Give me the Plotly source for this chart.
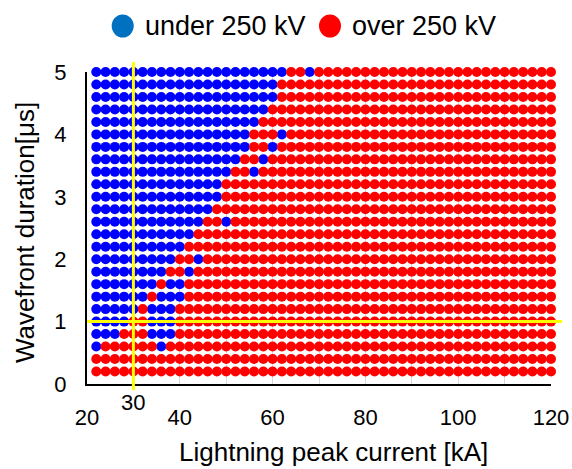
import plotly.graph_objects as go

# ---- data ----
x_values = [22, 24, 26, 28, 30, 32, 34, 36, 38, 40,
            42, 44, 46, 48, 50, 52, 54, 56, 58, 60,
            62, 64, 66, 68, 70, 72, 74, 76, 78, 80,
            82, 84, 86, 88, 90, 92, 94, 96, 98, 100,
            102, 104, 106, 108, 110, 112, 114, 116, 118, 120]
y_values = [5.0, 4.8, 4.6, 4.4, 4.2, 4.0, 3.8, 3.6, 3.4, 3.2,
            3.0, 2.8, 2.6, 2.4, 2.2, 2.0, 1.8, 1.6, 1.4, 1.2,
            1.0, 0.8, 0.6, 0.4, 0.2]
# B = under 250 kV, R = over 250 kV ; one string per row (y_values order), columns follow x_values
class_rows = [
    "BBBBBBBBBB BBBBBBBBBB BRRBRRRRRR RRRRRRRRRR RRRRRRRRRR",  # 5.0
    "BBBBBBBBBB BBBBBBBBBB RRRRRRRRRR RRRRRRRRRR RRRRRRRRRR",  # 4.8
    "BBBBBBBBBB BBBBBBBBBB RRRRRRRRRR RRRRRRRRRR RRRRRRRRRR",  # 4.6
    "BBBBBBBBBB BBBBBBBBBR RRRRRRRRRR RRRRRRRRRR RRRRRRRRRR",  # 4.4
    "BBBBBBBBBB BBBBBBBBRR RRRRRRRRRR RRRRRRRRRR RRRRRRRRRR",  # 4.2
    "BBBBBBBBBB BBBBBBBRRR BRRRRRRRRR RRRRRRRRRR RRRRRRRRRR",  # 4.0
    "BBBBBBBBBB BBBBBBBRRB RRRRRRRRRR RRRRRRRRRR RRRRRRRRRR",  # 3.8
    "BBBBBBBBBB BBBBBBRRBR RRRRRRRRRR RRRRRRRRRR RRRRRRRRRR",  # 3.6
    "BBBBBBBBBB BBBBBRRBRR RRRRRRRRRR RRRRRRRRRR RRRRRRRRRR",  # 3.4
    "BBBBBBBBBB BBBBRRRRRR RRRRRRRRRR RRRRRRRRRR RRRRRRRRRR",  # 3.2
    "BBBBBBBBBB BBBBRRRRRR RRRRRRRRRR RRRRRRRRRR RRRRRRRRRR",  # 3.0
    "BBBBBBBBBB BBBRRRRRRR RRRRRRRRRR RRRRRRRRRR RRRRRRRRRR",  # 2.8
    "BBBBBBBBBB BBRRBRRRRR RRRRRRRRRR RRRRRRRRRR RRRRRRRRRR",  # 2.6
    "BBBBBBBBBB BRRRRRRRRR RRRRRRRRRR RRRRRRRRRR RRRRRRRRRR",  # 2.4
    "BBBBBBBBBB RRRRRRRRRR RRRRRRRRRR RRRRRRRRRR RRRRRRRRRR",  # 2.2
    "BBBBBBBBBR RBRRRRRRRR RRRRRRRRRR RRRRRRRRRR RRRRRRRRRR",  # 2.0
    "BBBBBBBBRR BRRRRRRRRR RRRRRRRRRR RRRRRRRRRR RRRRRRRRRR",  # 1.8
    "BBBBBBBRBB RRRRRRRRRR RRRRRRRRRR RRRRRRRRRR RRRRRRRRRR",  # 1.6
    "BBBBBBRBBB RRRRRRRRRR RRRRRRRRRR RRRRRRRRRR RRRRRRRRRR",  # 1.4
    "BBBBBRBBBR RRRRRRRRRR RRRRRRRRRR RRRRRRRRRR RRRRRRRRRR",  # 1.2
    "BBBBRRBBBR RRRRRRRRRR RRRRRRRRRR RRRRRRRRRR RRRRRRRRRR",  # 1.0
    "BBBRRRBBBR RRRRRRRRRR RRRRRRRRRR RRRRRRRRRR RRRRRRRRRR",  # 0.8
    "BRRRRRRBRR RRRRRRRRRR RRRRRRRRRR RRRRRRRRRR RRRRRRRRRR",  # 0.6
    "RRRRRRRRRR RRRRRRRRRR RRRRRRRRRR RRRRRRRRRR RRRRRRRRRR",  # 0.4
    "RRRRRRRRRR RRRRRRRRRR RRRRRRRRRR RRRRRRRRRR RRRRRRRRRR",  # 0.2
]
x_tick_vals = [20, 40, 60, 80, 100, 120]
y_tick_vals = [0, 1, 2, 3, 4, 5]
ref_current = 30     # yellow vertical marker (kA)
ref_duration = 1.0   # yellow horizontal marker (us)
series_names = ["under 250 kV", "over 250 kV"]

# ---- build ----
blue_x, blue_y, red_x, red_y = [], [], [], []
for yv, row in zip(y_values, class_rows):
    row = row.replace(" ", "")
    assert len(row) == len(x_values)
    for xv, c in zip(x_values, row):
        if c == "B":
            blue_x.append(xv); blue_y.append(yv)
        else:
            red_x.append(xv); red_y.append(yv)

FONT = "Liberation Sans, Arial, sans-serif"
fig = go.Figure()
fig.add_trace(go.Scatter(x=blue_x, y=blue_y, mode="markers", name=series_names[0],
                         marker=dict(color="#0000FF", size=10, line=dict(width=0)),
                         cliponaxis=False, showlegend=False))
fig.add_trace(go.Scatter(x=red_x, y=red_y, mode="markers", name=series_names[1],
                         marker=dict(color="#FF0000", size=10, line=dict(width=0)),
                         cliponaxis=False, showlegend=False))

fig.update_layout(
    width=572, height=469,
    margin=dict(l=87, r=21, t=72, b=85),
    plot_bgcolor="white", paper_bgcolor="white",
    font=dict(family=FONT, color="black", size=22),
    xaxis=dict(range=[20, 120], tickvals=x_tick_vals, showgrid=True,
               gridcolor="#d9d9d9", gridwidth=1,
               minor=dict(dtick=10, tick0=20, showgrid=True, gridcolor="#d9d9d9", gridwidth=1),
               showline=True, linecolor="black", linewidth=2, ticks="",
               ticklabelstandoff=13, zeroline=False, tickfont=dict(size=22),
               automargin=False),
    yaxis=dict(range=[0, 5], tickvals=y_tick_vals, showgrid=False,
               showline=True, linecolor="black", linewidth=2, ticks="",
               ticklabelstandoff=14, zeroline=False, tickfont=dict(size=22),
               automargin=False),
    shapes=[
        dict(type="line", xref="x", yref="paper", x0=ref_current, x1=ref_current,
             y0=-0.02, y1=1.032, line=dict(color="#FFFF00", width=3), layer="above"),
        dict(type="line", xref="paper", yref="y", x0=0, x1=1.024,
             y0=ref_duration, y1=ref_duration, line=dict(color="#FFFF00", width=3), layer="above"),
        # legend markers
        dict(type="circle", xref="paper", yref="paper", xsizemode="pixel", ysizemode="pixel",
             xanchor=(122.7 - 87) / 464, yanchor=(384 - 26) / 312,
             x0=-11, x1=11, y0=-11.5, y1=11.5, fillcolor="#0070C0", line=dict(width=0)),
        dict(type="circle", xref="paper", yref="paper", xsizemode="pixel", ysizemode="pixel",
             xanchor=(330 - 87) / 464, yanchor=(384 - 26) / 312,
             x0=-11, x1=11, y0=-11.5, y1=11.5, fillcolor="#FF0000", line=dict(width=0)),
    ],
    annotations=[
        dict(text=series_names[0], xref="paper", yref="paper", x=(143 - 87) / 464,
             y=(384 - 26) / 312, xanchor="left", yanchor="middle", showarrow=False,
             font=dict(size=27)),
        dict(text=series_names[1], xref="paper", yref="paper", x=(350 - 87) / 464,
             y=(384 - 26) / 312, xanchor="left", yanchor="middle", showarrow=False,
             font=dict(size=27)),
        dict(text=str(ref_current), xref="x", yref="paper", x=ref_current,
             y=(384 - 402) / 312, xanchor="center", yanchor="middle", showarrow=False,
             font=dict(size=22)),
        dict(text="Lightning peak current [kA]", xref="paper", yref="paper",
             x=(333 - 87) / 464, y=(384 - 452) / 312, xanchor="center", yanchor="middle",
             showarrow=False, font=dict(size=26)),
        dict(text="Wavefront duration[μs]", xref="paper", yref="paper",
             x=(25 - 87) / 464, y=(384 - 233) / 312, xanchor="center", yanchor="middle",
             textangle=-90, showarrow=False, font=dict(size=26)),
    ],
)

fig.write_html("out.html", config={"displayModeBar": False},
               post_script="document.body.style.margin='0';document.body.style.padding='0';")
